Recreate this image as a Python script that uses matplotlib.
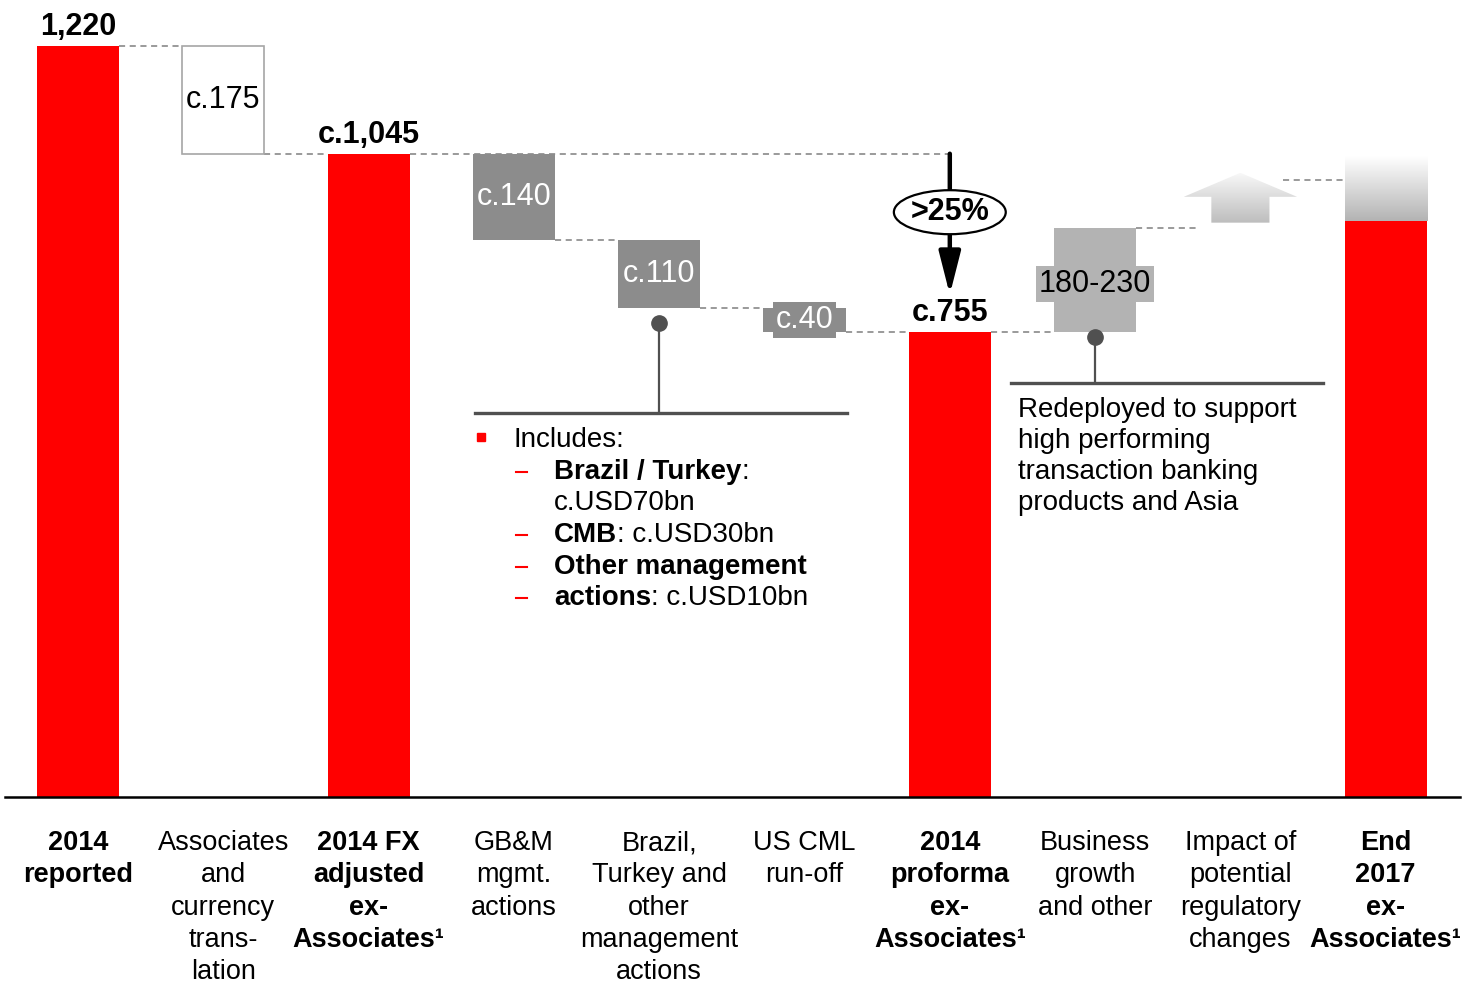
import numpy as np
import matplotlib
matplotlib.use('Agg')
import matplotlib.pyplot as plt
from matplotlib.patches import Ellipse, Polygon
from matplotlib.colors import LinearSegmentedColormap

plt.rcParams['font.family'] = ['Liberation Sans', 'DejaVu Sans']

# waterfall data (USD bn RWAs)
labels = [
    ['2014', 'reported'],
    ['Associates', 'and', 'currency', 'trans-', 'lation'],
    ['2014 FX', 'adjusted', 'ex-', 'Associates\u00b9'],
    ['GB&M', 'mgmt.', 'actions'],
    ['Brazil,', 'Turkey and', 'other', 'management', 'actions'],
    ['US CML', 'run-off'],
    ['2014', 'proforma', 'ex-', 'Associates\u00b9'],
    ['Business', 'growth', 'and other'],
    ['Impact of', 'potential', 'regulatory', 'changes'],
    ['End', '2017', 'ex-', 'Associates\u00b9'],
]
is_total = [True, False, True, False, False, False, True, False, False, True]
kinds = ['total', 'down', 'total', 'down', 'down', 'down', 'total', 'up', 'arrow', 'total']
amounts = [1220, 175, 1045, 140, 110, 40, 755, 170, 0, 936]
value_text = ['1,220', 'c.175', 'c.1,045', 'c.140', 'c.110', 'c.40', 'c.755', '180-230', '', '']

# regulatory arrow: shaft bottom, head base, tip
reg_arrow = [933, 975, 1014]
end_range_top = 1040
end_range_mark = 1003

includes_lines = [
    ('Brazil / Turkey', ':'),
    ('', 'c.USD70bn'),
    ('CMB', ': c.USD30bn'),
    ('Other management', ''),
    ('actions', ': c.USD10bn'),
]
redeployed_lines = ['Redeployed to support', 'high performing',
                    'transaction banking', 'products and Asia']

RED = '#ff0000'
DARK = '#8c8c8c'
LIGHT = '#b3b3b3'
CALLOUT = '#505050'

fig = plt.figure(figsize=(14.63, 9.83), dpi=100)
ax = fig.add_axes([0, 0, 1, 1])
ax.set_xlim(-0.537, 9.532)
ax.set_ylim(-302.1, 1294.7)
ax.axis('off')

u = 1 / 0.6156  # data units per pixel
w = 0.565
x = np.arange(len(kinds))

# bottoms and tops
bottoms, tops = [], []
level = 0
for k, a in zip(kinds, amounts):
    if k == 'total':
        b, t = 0, a
        level = a
    elif k == 'down':
        b, t = level - a, level
        level -= a
    elif k == 'up':
        b, t = level, level + a
        level += a
    else:
        b, t = level, level
    bottoms.append(b)
    tops.append(t)

faces = [RED, 'white', RED, DARK, DARK, DARK, RED, LIGHT, 'none', RED]
for i in range(len(kinds)):
    if kinds[i] == 'arrow':
        continue
    ec = '#a6a6a6' if faces[i] == 'white' else 'none'
    ax.bar(x[i], tops[i] - bottoms[i], bottom=bottoms[i], width=w,
           color=faces[i], edgecolor=ec, lw=1.2, zorder=3)

# dashed connectors
dash = dict(color='#7f7f7f', lw=1.1, ls=(0, (4, 3)), zorder=2)
ax.plot([0 + w / 2, 1 - w / 2], [1220, 1220], **dash)
ax.plot([1 + w / 2, 2 - w / 2], [1045, 1045], **dash)
ax.plot([2 + w / 2, 6], [1045, 1045], **dash)
ax.plot([3 + w / 2, 4 - w / 2], [tops[4], tops[4]], **dash)
ax.plot([4 + w / 2, 5 - w / 2], [tops[5], tops[5]], **dash)
ax.plot([5 + w / 2, 6 - w / 2], [755, 755], **dash)
ax.plot([6 + w / 2, 7 - w / 2], [755, 755], **dash)
ax.plot([7 + w / 2, 7.72], [tops[7], tops[7]], **dash)
ax.plot([8.29, 9 - w / 2], [end_range_mark, end_range_mark], **dash)

# baseline
ax.plot([-0.502, 9.51], [0, 0], color='black', lw=1.8, zorder=4)

# value labels
for i in range(len(kinds)):
    if kinds[i] == 'total' and value_text[i]:
        ax.text(x[i], tops[i] + 11 * u, value_text[i], ha='center', va='baseline',
                fontsize=22, fontweight='bold', zorder=5)
mid = lambda i: (bottoms[i] + tops[i]) / 2
ax.text(1, mid(1), value_text[1], ha='center', va='center', fontsize=22, zorder=5)
ax.text(3, mid(3), value_text[3], ha='center', va='center', fontsize=22, color='white', zorder=5)
ax.text(4, mid(4), value_text[4], ha='center', va='center', fontsize=22, color='white', zorder=5)
ax.text(5, mid(5), value_text[5], ha='center', va='center', fontsize=22, color='white', zorder=5,
        bbox=dict(boxstyle='square,pad=0.1', fc=DARK, ec='none'))
ax.text(7, mid(7) - 4 * u, value_text[7], ha='center', va='center', fontsize=22, color='black',
        zorder=5, bbox=dict(boxstyle='square,pad=0.1', fc=LIGHT, ec='none'))

# end 2017 range (gradient on top of the red bar)
grey_fade = LinearSegmentedColormap.from_list('fade', ['#b3b3b3', '#ffffff'])
grad = np.linspace(0, 1, 256).reshape(-1, 1)
ax.imshow(grad, cmap=grey_fade, origin='lower', aspect='auto', zorder=3,
          extent=[9 - w / 2, 9 + w / 2, tops[9], end_range_top])

# regulatory change arrow
sw, hw = 0.2, 0.39
b0, hb, tip = reg_arrow
arrow_pts = [(8 - sw, b0), (8 + sw, b0), (8 + sw, hb), (8 + hw, hb),
             (8, tip), (8 - hw, hb), (8 - sw, hb)]
arrow_patch = Polygon(arrow_pts, closed=True, fc='none', ec='none')
ax.add_patch(arrow_patch)
arrow_fade = LinearSegmentedColormap.from_list('afade', ['#bdbdbd', '#f8f8f8'])
im = ax.imshow(grad, cmap=arrow_fade, origin='lower', aspect='auto', zorder=3,
               extent=[8 - hw, 8 + hw, b0, tip])
im.set_clip_path(arrow_patch)
ax.set_xlim(-0.537, 9.532)
ax.set_ylim(-302.1, 1294.7)

# >25% reduction arrow
ax.annotate('', xy=(6, 816), xytext=(6, 1045),
            arrowprops=dict(arrowstyle='-|>,head_length=1.3,head_width=0.33', lw=3.2,
                            color='black', mutation_scale=20, shrinkA=0, shrinkB=0),
            zorder=6)
ax.add_patch(Ellipse((6, 950), 0.77, 44 * u, fc='white', ec='black', lw=1.6, zorder=7))
ax.text(6, 950, '>25%', ha='center', va='center', fontsize=22, fontweight='bold', zorder=8)

# callout: brazil / turkey
ax.plot([4, 4], [770, 624], color=CALLOUT, lw=1.6, zorder=4)
ax.plot([4], [770], 'o', color=CALLOUT, ms=11, zorder=5)
ax.plot([2.732, 5.292], [624, 624], color=CALLOUT, lw=2.4, zorder=4)

ax.plot([2.774], [584.8], 's', color=RED, ms=5.5, zorder=5)
ax.text(3.0, 580, 'Includes:', ha='left', va='center', fontsize=20)
line_y = [528, 477.6, 425.7, 373.7, 323.3]
for (b, r), yy in zip(includes_lines, line_y):
    if b:
        ax.plot([3.014, 3.09], [yy, yy], color=RED, lw=1.5)
        t = ax.text(3.276, yy, b, ha='left', va='center', fontsize=20, fontweight='bold')
        if r:
            ax.annotate(r, xy=(1, 0), xycoords=t, ha='left', va='bottom', fontsize=20)
    else:
        ax.text(3.276, yy, r, ha='left', va='center', fontsize=20)

# callout: redeployed
ax.plot([7, 7], [747, 672.5], color=CALLOUT, lw=1.6, zorder=4)
ax.plot([7], [747], 'o', color=CALLOUT, ms=11, zorder=5)
ax.plot([6.421, 8.569], [672.5, 672.5], color=CALLOUT, lw=2.4, zorder=4)
for k, s in enumerate(redeployed_lines):
    ax.text(6.469, 628.7 - k * 31 * u, s, ha='left', va='center', fontsize=20)

# category labels
for i, lines in enumerate(labels):
    for k, s in enumerate(lines):
        ax.text(x[i], -(850 - 797 + k * 32.3) * u, s, ha='center', va='baseline',
                fontsize=19.5, fontweight='bold' if is_total[i] else 'normal')

fig.savefig('out.png', dpi=100)
